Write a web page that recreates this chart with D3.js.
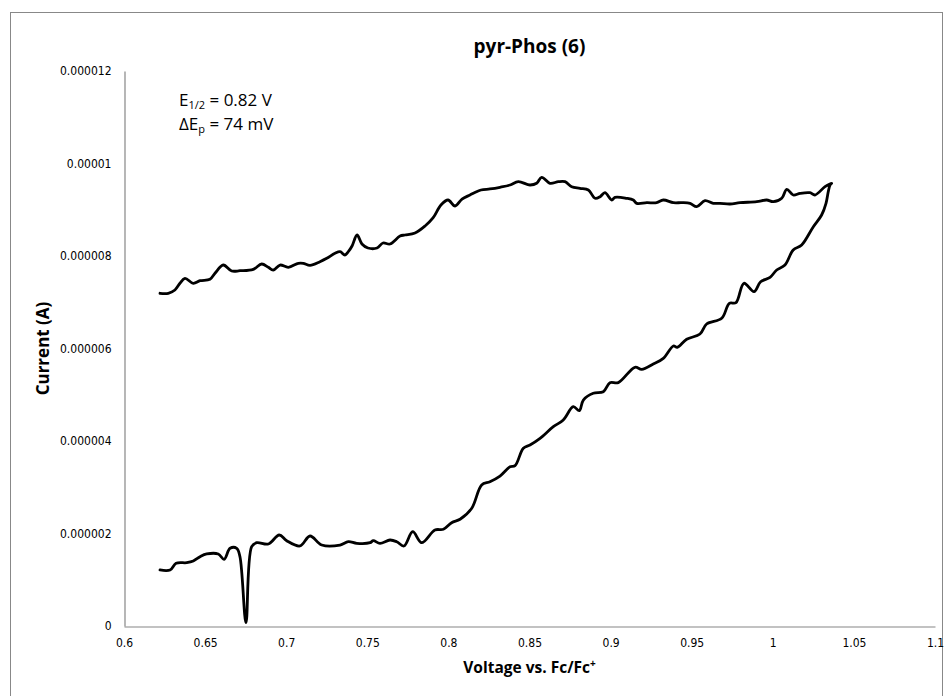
<!DOCTYPE html>
<html>
<head>
<meta charset="utf-8">
<script src="https://cdn.jsdelivr.net/npm/d3@7"></script>
<style>
  html, body { margin: 0; padding: 0; background: #fff; }
  svg { display: block; }
</style>
</head>
<body>
<svg id="chart" width="944" height="696"></svg>
<script>
// Cyclic voltammogram of pyr-Phos (6): forward scan then return scan, in order.
const voltage = [
  0.6222, 0.6284, 0.6321, 0.6387, 0.6427, 0.6469, 0.6510, 0.6581, 0.6617, 0.6654,
  0.6695, 0.6715, 0.6752, 0.6787, 0.6818, 0.6890, 0.6957, 0.7003, 0.7085, 0.7147,
  0.7219, 0.7332, 0.7383, 0.7435, 0.7517, 0.7537, 0.7578, 0.7640, 0.7681, 0.7726,
  0.7780, 0.7835, 0.7917, 0.7969, 0.8020, 0.8072, 0.8144, 0.8205, 0.8256, 0.8318,
  0.8380, 0.8411, 0.8462, 0.8503, 0.8565, 0.8647, 0.8708, 0.8770, 0.8807, 0.8832,
  0.8893, 0.8955, 0.8996, 0.9047, 0.9150, 0.9192, 0.9263, 0.9325, 0.9387, 0.9411,
  0.9469, 0.9551, 0.9592, 0.9685, 0.9732, 0.9773, 0.9822, 0.9884, 0.9925, 0.9983,
  1.0024, 1.0075, 1.0126, 1.0178, 1.0250, 1.0301, 1.0328, 1.0342, 1.0353, 1.0363,
  1.0322, 1.0260, 1.0229, 1.0168, 1.0126, 1.0086, 1.0055, 1.0003, 0.9962, 0.9901,
  0.9798, 0.9736, 0.9674, 0.9633, 0.9582, 0.9531, 0.9490, 0.9438, 0.9387, 0.9325,
  0.9284, 0.9223, 0.9161, 0.9140, 0.9099, 0.9027, 0.9007, 0.8965, 0.8935, 0.8904,
  0.8863, 0.8811, 0.8760, 0.8719, 0.8678, 0.8626, 0.8575, 0.8544, 0.8503, 0.8431,
  0.8380, 0.8318, 0.8256, 0.8201, 0.8133, 0.8084, 0.8041, 0.7998, 0.7954, 0.7905,
  0.7856, 0.7794, 0.7732, 0.7702, 0.7640, 0.7597, 0.7560, 0.7504, 0.7467, 0.7437,
  0.7406, 0.7383, 0.7362, 0.7332, 0.7301, 0.7250, 0.7208, 0.7147, 0.7105, 0.7075,
  0.7013, 0.6962, 0.6920, 0.6890, 0.6849, 0.6797, 0.6715, 0.6664, 0.6612, 0.6561,
  0.6530, 0.6469, 0.6427, 0.6376, 0.6345, 0.6314, 0.6273, 0.6222
];

// Current in microamperes, paired with voltage above.
const currentMicroA = [
  1.211, 1.211, 1.356, 1.369, 1.405, 1.498, 1.557, 1.557, 1.442, 1.680,
  1.680, 1.498, 0.071, 1.715, 1.801, 1.773, 1.968, 1.844, 1.730, 1.946,
  1.751, 1.751, 1.823, 1.788, 1.801, 1.844, 1.788, 1.859, 1.823, 1.730,
  2.039, 1.801, 2.076, 2.091, 2.234, 2.307, 2.545, 3.049, 3.120, 3.243,
  3.444, 3.466, 3.842, 3.914, 4.058, 4.309, 4.454, 4.742, 4.655, 4.886,
  5.031, 5.066, 5.261, 5.261, 5.594, 5.550, 5.665, 5.788, 6.054, 6.026,
  6.199, 6.314, 6.530, 6.653, 6.977, 6.990, 7.410, 7.228, 7.444, 7.539,
  7.697, 7.805, 8.130, 8.238, 8.634, 8.886, 9.139, 9.391, 9.535, 9.572,
  9.499, 9.319, 9.369, 9.355, 9.319, 9.442, 9.248, 9.174, 9.211, 9.174,
  9.153, 9.124, 9.139, 9.139, 9.196, 9.066, 9.139, 9.153, 9.153, 9.211,
  9.153, 9.153, 9.139, 9.211, 9.248, 9.269, 9.211, 9.369, 9.282, 9.248,
  9.427, 9.464, 9.499, 9.607, 9.607, 9.572, 9.702, 9.572, 9.535, 9.607,
  9.535, 9.486, 9.449, 9.427, 9.319, 9.232, 9.081, 9.211, 9.103, 8.822,
  8.649, 8.497, 8.454, 8.432, 8.259, 8.281, 8.173, 8.173, 8.259, 8.454,
  8.216, 8.093, 8.022, 8.093, 8.058, 7.950, 7.877, 7.799, 7.842, 7.842,
  7.756, 7.805, 7.697, 7.756, 7.827, 7.712, 7.682, 7.676, 7.805, 7.626,
  7.496, 7.466, 7.410, 7.518, 7.410, 7.265, 7.194, 7.194
];

const xTicks = [0.6, 0.65, 0.7, 0.75, 0.8, 0.85, 0.9, 0.95, 1, 1.05, 1.1];
const xTickLabels = ["0.6", "0.65", "0.7", "0.75", "0.8", "0.85", "0.9", "0.95", "1", "1.05", "1.1"];
const yTicks = [0, 0.000002, 0.000004, 0.000006, 0.000008, 0.00001, 0.000012];
const yTickLabels = ["0", "0.000002", "0.000004", "0.000006", "0.000008", "0.00001", "0.000012"];

const chartTitle = "pyr-Phos (6)";
const xTitle = "Voltage vs. Fc/Fc";
const yTitle = "Current (A)";

const points = voltage.map((v, i) => ({ v: v, c: currentMicroA[i] * 1e-6 }));

const svg = d3.select("#chart");
const uiFont = '"Liberation Sans Narrow", "DejaVu Sans Condensed", "Liberation Sans", sans-serif';
const boldFont = '"Open Sans", "Liberation Sans", sans-serif';
const labelFont = '"Open Sans", "Liberation Sans", sans-serif';

const plot = { left: 124, right: 935, top: 71, bottom: 626 };

// Chart area border
svg.append("rect")
  .attr("x", 10.5).attr("y", 12.5)
  .attr("width", 932).attr("height", 700)
  .attr("fill", "#fff").attr("stroke", "#888").attr("stroke-width", 1);

const x = d3.scaleLinear().domain([0.6, 1.1]).range([plot.left, plot.right]);
const y = d3.scaleLinear().domain([0, 0.000012]).range([plot.bottom, plot.top]);

// Axes: plain grey lines without tick marks
const xAxis = d3.axisBottom(x).tickValues(xTicks)
  .tickFormat((d, i) => xTickLabels[i]).tickSize(0).tickPadding(12);
const yAxis = d3.axisLeft(y).tickValues(yTicks)
  .tickFormat((d, i) => yTickLabels[i]).tickSize(0).tickPadding(13);

const gx = svg.append("g").attr("transform", `translate(0,${plot.bottom + 0.5})`).call(xAxis);
const gy = svg.append("g").attr("transform", `translate(${plot.left + 0.5},0)`).call(yAxis);
[gx, gy].forEach(g => {
  g.select(".domain").attr("stroke", "#868686").attr("stroke-width", 1.2);
  g.selectAll("text").style("font-family", uiFont).style("font-size", "12px").attr("fill", "#000");
});

// Voltammogram trace
const line = d3.line()
  .x(d => x(d.v))
  .y(d => y(d.c))
  .curve(d3.curveCatmullRom.alpha(0.5));

svg.append("path")
  .datum(points)
  .attr("fill", "none")
  .attr("stroke", "#000")
  .attr("stroke-width", 2.8)
  .attr("stroke-linejoin", "round")
  .attr("stroke-linecap", "round")
  .attr("d", line);

// Title
svg.append("text")
  .attr("x", (plot.left + plot.right) / 2).attr("y", 53)
  .attr("text-anchor", "middle")
  .style("font-family", boldFont).style("font-weight", "bold").style("font-size", "19px")
  .text(chartTitle);

// Axis titles
const xt = svg.append("text")
  .attr("x", (plot.left + plot.right) / 2).attr("y", 673)
  .attr("text-anchor", "middle")
  .style("font-family", boldFont).style("font-weight", "bold").style("font-size", "15.5px");
xt.append("tspan").text(xTitle);
xt.append("tspan").attr("dy", -6).style("font-size", "10px").text("+");

svg.append("text")
  .attr("transform", `translate(49,${(plot.top + plot.bottom) / 2}) rotate(-90)`)
  .attr("text-anchor", "middle")
  .style("font-family", boldFont).style("font-weight", "bold").style("font-size", "17px")
  .text(yTitle);

// Half-wave potential and peak separation note
const note = svg.append("g").style("font-family", labelFont).style("font-size", "17px");
const l1 = note.append("text").attr("x", 179).attr("y", 106);
l1.append("tspan").text("E");
l1.append("tspan").attr("dy", 3).style("font-size", "11px").text("1/2");
l1.append("tspan").attr("dy", -3).text(" = 0.82 V");
const l2 = note.append("text").attr("x", 179).attr("y", 130);
l2.append("tspan").text("\u0394E");
l2.append("tspan").attr("dy", 3).style("font-size", "11px").text("p");
l2.append("tspan").attr("dy", -3).text(" = 74 mV");
</script>
</body>
</html>
